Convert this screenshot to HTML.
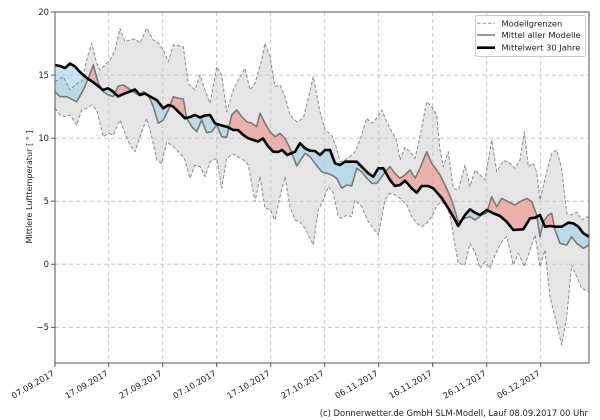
<!DOCTYPE html>
<html>
<head>
<meta charset="utf-8">
<style>
html,body{margin:0;padding:0;background:#fff;}
svg{display:block;}
text{font-family:"DejaVu Sans","Liberation Sans",sans-serif;fill:#222;}
</style>
</head>
<body>
<svg width="600" height="420" viewBox="0 0 600 420" xmlns="http://www.w3.org/2000/svg">
<defs>
  <clipPath id="lowTop"><polygon points="55,108.3 60,115 65,116.7 70,115 76.7,125 81.7,110 86.7,108.3 91.7,105 96.7,110 103.3,136.7 108.3,133.3 113.3,135 120,120 125,133.3 130,145 135,151.7 140,136.7 146.7,118.3 151.7,136.7 156.7,160 161.7,163.3 166.7,141.7 173.3,146.7 180,153.3 185,160 190,178.3 195,165 200,166.7 205,176.7 210,161.7 216.7,158.3 221.7,188.3 226.7,158 233.3,154 243.3,160 248.3,165 255,201.7 260,176.7 265,208.3 270,209.3 275,220 280,196.7 285,176.7 290,206.7 295,220 300,222 305,228.3 313.3,245 318.3,210 323.3,200 328.3,186.7 333.3,193.3 338.3,216.7 341.7,218.3 346.7,215 351.7,216.7 355,200 361.7,206.7 368.3,221.7 378.3,235 385,200 390,193.3 395,195 400,198.3 406.7,205 411.7,216.7 416.7,223.3 421.7,226.7 426.7,223.3 431.7,216.7 436.7,206 440,203 445,203.3 450,215 455,245 458.3,263.3 465,265 470,243.3 475,252 480,268.3 485,261.7 490,268.3 495,255 501.7,241.7 506.7,236.7 510,250 513.3,265 518.3,253.3 524.3,266.7 530,250 535,235 540,266.7 545,250 550,296.7 555,316.7 561.7,345 566.7,316.7 571.7,265 576.7,276.7 581.7,288.3 589,291.7 589,12 55,12"/></clipPath>
  <clipPath id="blackTop"><polygon points="55,65 60,66 65,68 70,63.5 75,66.5 80,72 86.7,78 93,82 98,86 103,90 108,88.3 113,91.5 118,96.5 125,93.3 130,91.5 135,89.5 140,95 145,93.5 150,96.5 156.7,100 163.3,108.3 168.3,105 173,106.5 178.3,111.7 185,118.3 190,117 195,115 200,117.5 205,115.5 210,115 215,123.3 220,125 226.7,126.7 233.3,130 238,130 243.3,135 248.3,138.3 253.3,140 258,141.5 263,138.5 268.3,146.7 273.3,151.7 278,152 282,150 287.3,155 292,153 295,151.7 300,143.3 305,148.3 310,150.7 315,151 320,155 325,150 330,150 335,163.3 340,165 345,161.7 350,161.7 356.7,161.7 361.7,166.7 368.3,173.3 373.3,176.7 378.3,168.3 383.3,168.3 390,180 395,186 400,185 405,180.7 411.7,188.3 416.7,192.7 421.7,186 428.3,186 433.3,188.3 441.7,198 448.3,208.3 453.3,216.7 458.3,226 465,215 470,209.3 475,212.7 480,215 486.7,210 493.3,213.3 500,216 506.7,221.7 513.3,230 523.3,229.3 530,218.3 535,217.7 540,215 545,226.7 550,226 555,226.7 561.7,226.7 568.3,222.7 573.3,223.3 578.3,226.7 583.3,233.3 589,236.7 589,12 55,12"/></clipPath>
  <clipPath id="blackBot"><polygon points="55,65 60,66 65,68 70,63.5 75,66.5 80,72 86.7,78 93,82 98,86 103,90 108,88.3 113,91.5 118,96.5 125,93.3 130,91.5 135,89.5 140,95 145,93.5 150,96.5 156.7,100 163.3,108.3 168.3,105 173,106.5 178.3,111.7 185,118.3 190,117 195,115 200,117.5 205,115.5 210,115 215,123.3 220,125 226.7,126.7 233.3,130 238,130 243.3,135 248.3,138.3 253.3,140 258,141.5 263,138.5 268.3,146.7 273.3,151.7 278,152 282,150 287.3,155 292,153 295,151.7 300,143.3 305,148.3 310,150.7 315,151 320,155 325,150 330,150 335,163.3 340,165 345,161.7 350,161.7 356.7,161.7 361.7,166.7 368.3,173.3 373.3,176.7 378.3,168.3 383.3,168.3 390,180 395,186 400,185 405,180.7 411.7,188.3 416.7,192.7 421.7,186 428.3,186 433.3,188.3 441.7,198 448.3,208.3 453.3,216.7 458.3,226 465,215 470,209.3 475,212.7 480,215 486.7,210 493.3,213.3 500,216 506.7,221.7 513.3,230 523.3,229.3 530,218.3 535,217.7 540,215 545,226.7 550,226 555,226.7 561.7,226.7 568.3,222.7 573.3,223.3 578.3,226.7 583.3,233.3 589,236.7 589,363 55,363"/></clipPath>
</defs>

<polygon clip-path="url(#lowTop)" fill="#e5e5e5" points="55,81.7 63.3,76.7 70,90 76.7,83.3 81.7,81.7 86.7,60 91.7,43.3 96.7,63.3 100,70 105,65 110,60 115,50 120,28.3 125,41.7 131.7,39.3 136,39.5 140,43.3 146.7,28.3 153.3,40 158.3,43 163.3,50 168.3,61.7 173.3,45 178,45.5 183.3,46.7 188.3,83.3 195,90 200,75 205,90 210,103.3 216.7,66.7 221.7,75 226.7,111.7 233.3,90 240,76.7 245,68.3 250,90 255,83.3 261.7,60 265,43.3 270,56.7 275,86.7 280,85 285,96.7 290,115 296.7,121.7 303.3,118.3 308.3,98.3 313.3,76.7 320,111.7 325,130 331.7,135 336.7,148.3 340,161.7 345,160 350,156.7 355,151.7 360,140 366.7,118.3 371.7,123.3 376.7,118.3 381.7,110 386.7,121.7 391.7,131.7 396.7,140 400,160 405,147.3 410,151.7 415,158.3 420,136.7 426.7,101.7 431.7,106.7 436.7,115 440,150 443.3,166.7 448.3,151.7 453.3,188.3 458.3,190 465,165 470,186.7 475,170 480,175 485,180 491.7,140 496.7,171.7 503.3,160.7 508.3,161.7 515,168.3 520,160 524.3,131.7 528.3,166.7 533.3,163.3 536.7,172 540,200 546.7,171.7 551.7,153.3 556.7,150 561.7,168.3 566.7,213.3 571.7,215 576.7,212 581.7,220 586.7,216.7 589,218 589,363 55,363"/>

<g stroke="#c8c8c8" stroke-width="1" stroke-dasharray="4,3" fill="none">
  <line x1="108.7" y1="12" x2="108.7" y2="363"/>
  <line x1="162.7" y1="12" x2="162.7" y2="363"/>
  <line x1="216.7" y1="12" x2="216.7" y2="363"/>
  <line x1="270.7" y1="12" x2="270.7" y2="363"/>
  <line x1="324.7" y1="12" x2="324.7" y2="363"/>
  <line x1="378.7" y1="12" x2="378.7" y2="363"/>
  <line x1="432.7" y1="12" x2="432.7" y2="363"/>
  <line x1="486.7" y1="12" x2="486.7" y2="363"/>
  <line x1="540.7" y1="12" x2="540.7" y2="363"/>
  <line x1="55" y1="75.1" x2="589" y2="75.1"/>
  <line x1="55" y1="138.2" x2="589" y2="138.2"/>
  <line x1="55" y1="201.2" x2="589" y2="201.2"/>
  <line x1="55" y1="264.3" x2="589" y2="264.3"/>
  <line x1="55" y1="327.4" x2="589" y2="327.4"/>
</g>

<polygon clip-path="url(#blackTop)" fill="#f08070" fill-opacity="0.5" points="55,91.7 60,96.7 66.7,96.7 76.7,101.7 83.3,90 88.3,78.3 93.3,65 98.3,83.3 103.3,91.7 108.3,95 113.3,96.5 118.3,86 123.3,85 128.3,88.3 133.3,91.7 138.3,95 143.3,91.7 148.3,95 153.3,106.7 158.3,123.3 163.3,120 168.3,110 173.3,96.7 178.3,98.3 183.3,99 186.7,118.3 191.7,126.7 196.7,131.7 201.7,120 206.7,132.7 211.7,131.7 216.7,125 221.7,136.7 226.7,137.3 231.7,115 236.7,110 241.7,116.7 246.7,121.7 251.7,123.3 256.7,126.7 260,113.3 265,123.3 270,131.7 275,136.7 280,133.3 285,138.3 290,148.3 296.7,166 301.7,158.3 305,153.3 310,156.7 315,163.3 321.7,171.7 326.7,173.3 331.7,175 336.7,178.3 341.7,188.3 346.7,185 351.7,186 356.7,168.3 361.7,172 366.7,178 371.7,183.3 376.7,183.3 381.7,176.7 386.7,170 390,166.7 395,173.3 400,178.3 405,175 410,170 415,178.3 420,168.3 426.7,151.7 431.7,163.3 436.7,170 440,175 445,185 451.7,200 458.3,221.7 465,218.3 470,216.7 475,220 481.7,215 486.7,213 491.7,196.7 496.7,206.7 501.7,198.3 508.3,201.7 515,205 520,201.7 526.7,198.3 531.7,201.7 536.7,215 540,236.7 543.3,221.7 548.3,215 551.7,213.3 555,230 560,243.3 566.7,245 571.7,236.7 576.7,243.3 583.3,248.3 589,245 589,363 55,363"/>

<polygon clip-path="url(#blackBot)" fill="#9fd0e8" fill-opacity="0.58" points="55,91.7 60,96.7 66.7,96.7 76.7,101.7 83.3,90 88.3,78.3 93.3,65 98.3,83.3 103.3,91.7 108.3,95 113.3,96.5 118.3,86 123.3,85 128.3,88.3 133.3,91.7 138.3,95 143.3,91.7 148.3,95 153.3,106.7 158.3,123.3 163.3,120 168.3,110 173.3,96.7 178.3,98.3 183.3,99 186.7,118.3 191.7,126.7 196.7,131.7 201.7,120 206.7,132.7 211.7,131.7 216.7,125 221.7,136.7 226.7,137.3 231.7,115 236.7,110 241.7,116.7 246.7,121.7 251.7,123.3 256.7,126.7 260,113.3 265,123.3 270,131.7 275,136.7 280,133.3 285,138.3 290,148.3 296.7,166 301.7,158.3 305,153.3 310,156.7 315,163.3 321.7,171.7 326.7,173.3 331.7,175 336.7,178.3 341.7,188.3 346.7,185 351.7,186 356.7,168.3 361.7,172 366.7,178 371.7,183.3 376.7,183.3 381.7,176.7 386.7,170 390,166.7 395,173.3 400,178.3 405,175 410,170 415,178.3 420,168.3 426.7,151.7 431.7,163.3 436.7,170 440,175 445,185 451.7,200 458.3,221.7 465,218.3 470,216.7 475,220 481.7,215 486.7,213 491.7,196.7 496.7,206.7 501.7,198.3 508.3,201.7 515,205 520,201.7 526.7,198.3 531.7,201.7 536.7,215 540,236.7 543.3,221.7 548.3,215 551.7,213.3 555,230 560,243.3 566.7,245 571.7,236.7 576.7,243.3 583.3,248.3 589,245 589,12 55,12"/>

<g fill="none" stroke="#8c8c8c" stroke-width="1" stroke-dasharray="3.5,2" stroke-linejoin="round">
<polyline points="55,81.7 63.3,76.7 70,90 76.7,83.3 81.7,81.7 86.7,60 91.7,43.3 96.7,63.3 100,70 105,65 110,60 115,50 120,28.3 125,41.7 131.7,39.3 136,39.5 140,43.3 146.7,28.3 153.3,40 158.3,43 163.3,50 168.3,61.7 173.3,45 178,45.5 183.3,46.7 188.3,83.3 195,90 200,75 205,90 210,103.3 216.7,66.7 221.7,75 226.7,111.7 233.3,90 240,76.7 245,68.3 250,90 255,83.3 261.7,60 265,43.3 270,56.7 275,86.7 280,85 285,96.7 290,115 296.7,121.7 303.3,118.3 308.3,98.3 313.3,76.7 320,111.7 325,130 331.7,135 336.7,148.3 340,161.7 345,160 350,156.7 355,151.7 360,140 366.7,118.3 371.7,123.3 376.7,118.3 381.7,110 386.7,121.7 391.7,131.7 396.7,140 400,160 405,147.3 410,151.7 415,158.3 420,136.7 426.7,101.7 431.7,106.7 436.7,115 440,150 443.3,166.7 448.3,151.7 453.3,188.3 458.3,190 465,165 470,186.7 475,170 480,175 485,180 491.7,140 496.7,171.7 503.3,160.7 508.3,161.7 515,168.3 520,160 524.3,131.7 528.3,166.7 533.3,163.3 536.7,172 540,200 546.7,171.7 551.7,153.3 556.7,150 561.7,168.3 566.7,213.3 571.7,215 576.7,212 581.7,220 586.7,216.7 589,218"/>
<polyline points="55,108.3 60,115 65,116.7 70,115 76.7,125 81.7,110 86.7,108.3 91.7,105 96.7,110 103.3,136.7 108.3,133.3 113.3,135 120,120 125,133.3 130,145 135,151.7 140,136.7 146.7,118.3 151.7,136.7 156.7,160 161.7,163.3 166.7,141.7 173.3,146.7 180,153.3 185,160 190,178.3 195,165 200,166.7 205,176.7 210,161.7 216.7,158.3 221.7,188.3 226.7,158 233.3,154 243.3,160 248.3,165 255,201.7 260,176.7 265,208.3 270,209.3 275,220 280,196.7 285,176.7 290,206.7 295,220 300,222 305,228.3 313.3,245 318.3,210 323.3,200 328.3,186.7 333.3,193.3 338.3,216.7 341.7,218.3 346.7,215 351.7,216.7 355,200 361.7,206.7 368.3,221.7 378.3,235 385,200 390,193.3 395,195 400,198.3 406.7,205 411.7,216.7 416.7,223.3 421.7,226.7 426.7,223.3 431.7,216.7 436.7,206 440,203 445,203.3 450,215 455,245 458.3,263.3 465,265 470,243.3 475,252 480,268.3 485,261.7 490,268.3 495,255 501.7,241.7 506.7,236.7 510,250 513.3,265 518.3,253.3 524.3,266.7 530,250 535,235 540,266.7 545,250 550,296.7 555,316.7 561.7,345 566.7,316.7 571.7,265 576.7,276.7 581.7,288.3 589,291.7"/>
</g>

<polyline fill="none" stroke="#7a7a7a" stroke-width="1.6" stroke-linejoin="round" points="55,91.7 60,96.7 66.7,96.7 76.7,101.7 83.3,90 88.3,78.3 93.3,65 98.3,83.3 103.3,91.7 108.3,95 113.3,96.5 118.3,86 123.3,85 128.3,88.3 133.3,91.7 138.3,95 143.3,91.7 148.3,95 153.3,106.7 158.3,123.3 163.3,120 168.3,110 173.3,96.7 178.3,98.3 183.3,99 186.7,118.3 191.7,126.7 196.7,131.7 201.7,120 206.7,132.7 211.7,131.7 216.7,125 221.7,136.7 226.7,137.3 231.7,115 236.7,110 241.7,116.7 246.7,121.7 251.7,123.3 256.7,126.7 260,113.3 265,123.3 270,131.7 275,136.7 280,133.3 285,138.3 290,148.3 296.7,166 301.7,158.3 305,153.3 310,156.7 315,163.3 321.7,171.7 326.7,173.3 331.7,175 336.7,178.3 341.7,188.3 346.7,185 351.7,186 356.7,168.3 361.7,172 366.7,178 371.7,183.3 376.7,183.3 381.7,176.7 386.7,170 390,166.7 395,173.3 400,178.3 405,175 410,170 415,178.3 420,168.3 426.7,151.7 431.7,163.3 436.7,170 440,175 445,185 451.7,200 458.3,221.7 465,218.3 470,216.7 475,220 481.7,215 486.7,213 491.7,196.7 496.7,206.7 501.7,198.3 508.3,201.7 515,205 520,201.7 526.7,198.3 531.7,201.7 536.7,215 540,236.7 543.3,221.7 548.3,215 551.7,213.3 555,230 560,243.3 566.7,245 571.7,236.7 576.7,243.3 583.3,248.3 589,245"/>

<polyline fill="none" stroke="#000" stroke-width="2.6" stroke-linejoin="round" points="55,65 60,66 65,68 70,63.5 75,66.5 80,72 86.7,78 93,82 98,86 103,90 108,88.3 113,91.5 118,96.5 125,93.3 130,91.5 135,89.5 140,95 145,93.5 150,96.5 156.7,100 163.3,108.3 168.3,105 173,106.5 178.3,111.7 185,118.3 190,117 195,115 200,117.5 205,115.5 210,115 215,123.3 220,125 226.7,126.7 233.3,130 238,130 243.3,135 248.3,138.3 253.3,140 258,141.5 263,138.5 268.3,146.7 273.3,151.7 278,152 282,150 287.3,155 292,153 295,151.7 300,143.3 305,148.3 310,150.7 315,151 320,155 325,150 330,150 335,163.3 340,165 345,161.7 350,161.7 356.7,161.7 361.7,166.7 368.3,173.3 373.3,176.7 378.3,168.3 383.3,168.3 390,180 395,186 400,185 405,180.7 411.7,188.3 416.7,192.7 421.7,186 428.3,186 433.3,188.3 441.7,198 448.3,208.3 453.3,216.7 458.3,226 465,215 470,209.3 475,212.7 480,215 486.7,210 493.3,213.3 500,216 506.7,221.7 513.3,230 523.3,229.3 530,218.3 535,217.7 540,215 545,226.7 550,226 555,226.7 561.7,226.7 568.3,222.7 573.3,223.3 578.3,226.7 583.3,233.3 589,236.7"/>

<rect x="55" y="12" width="534" height="351" fill="none" stroke="#555" stroke-width="1"/>

<g stroke="#555" stroke-width="1">
  <line x1="51" y1="12" x2="55" y2="12"/>
  <line x1="51" y1="75.1" x2="55" y2="75.1"/>
  <line x1="51" y1="138.2" x2="55" y2="138.2"/>
  <line x1="51" y1="201.2" x2="55" y2="201.2"/>
  <line x1="51" y1="264.3" x2="55" y2="264.3"/>
  <line x1="51" y1="327.4" x2="55" y2="327.4"/>
  <line x1="55" y1="363" x2="55" y2="367"/>
  <line x1="108.7" y1="363" x2="108.7" y2="367"/>
  <line x1="162.7" y1="363" x2="162.7" y2="367"/>
  <line x1="216.7" y1="363" x2="216.7" y2="367"/>
  <line x1="270.7" y1="363" x2="270.7" y2="367"/>
  <line x1="324.7" y1="363" x2="324.7" y2="367"/>
  <line x1="378.7" y1="363" x2="378.7" y2="367"/>
  <line x1="432.7" y1="363" x2="432.7" y2="367"/>
  <line x1="486.7" y1="363" x2="486.7" y2="367"/>
  <line x1="540.7" y1="363" x2="540.7" y2="367"/>
</g>

<g font-size="8.4" text-anchor="end">
  <text x="49" y="15">20</text>
  <text x="49" y="78">15</text>
  <text x="49" y="141">10</text>
  <text x="49" y="204">5</text>
  <text x="49" y="267">0</text>
  <text x="49" y="330">−5</text>
</g>

<g font-size="8.4" text-anchor="end">
  <text transform="translate(55,375) rotate(-30)">07.09.2017</text>
  <text transform="translate(108.7,375) rotate(-30)">17.09.2017</text>
  <text transform="translate(162.7,375) rotate(-30)">27.09.2017</text>
  <text transform="translate(216.7,375) rotate(-30)">07.10.2017</text>
  <text transform="translate(270.7,375) rotate(-30)">17.10.2017</text>
  <text transform="translate(324.7,375) rotate(-30)">27.10.2017</text>
  <text transform="translate(378.7,375) rotate(-30)">06.11.2017</text>
  <text transform="translate(432.7,375) rotate(-30)">16.11.2017</text>
  <text transform="translate(486.7,375) rotate(-30)">26.11.2017</text>
  <text transform="translate(540.7,375) rotate(-30)">06.12.2017</text>
</g>

<text font-size="8.1" text-anchor="middle" transform="translate(32,187) rotate(-90)">Mittlere Lufttemperatur [ ° ]</text>

<rect x="475.5" y="15.5" width="110" height="41" rx="2" ry="2" fill="#fff" fill-opacity="0.85" stroke="#cccccc" stroke-width="1"/>
<line x1="477" y1="23.3" x2="495" y2="23.3" stroke="#999" stroke-width="1" stroke-dasharray="3.5,2"/>
<line x1="477" y1="35" x2="495" y2="35" stroke="#7a7a7a" stroke-width="1.6"/>
<line x1="477" y1="47.7" x2="495" y2="47.7" stroke="#000" stroke-width="2.6"/>
<g font-size="8.3">
  <text x="501.5" y="26.3">Modellgrenzen</text>
  <text x="501.5" y="38">Mittel aller Modelle</text>
  <text x="501.5" y="50.7">Mittelwert 30 Jahre</text>
</g>

<text x="588" y="416" font-size="8.4" text-anchor="end">(c) Donnerwetter.de GmbH SLM-Modell, Lauf 08.09.2017 00 Uhr</text>
</svg>
</body>
</html>
